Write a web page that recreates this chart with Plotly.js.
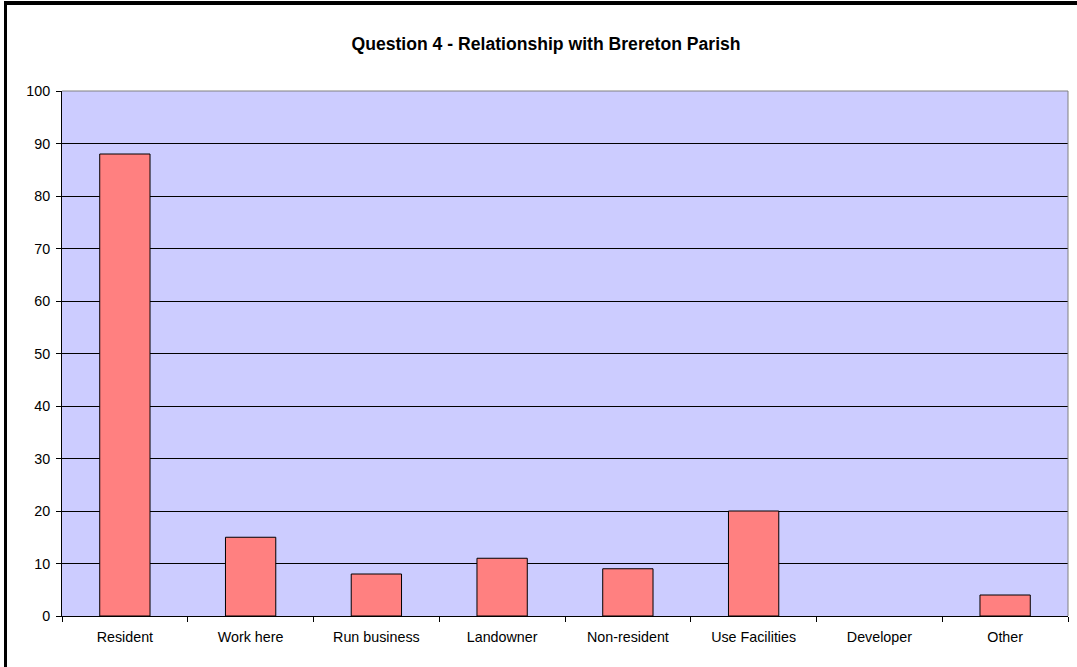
<!DOCTYPE html>
<html>
<head>
<meta charset="utf-8">
<script src="https://cdn.plot.ly/plotly-3.0.1.min.js"></script>
<style>
  html, body { margin: 0; padding: 0; background: #fff; }
  #wrap { position: relative; width: 1077px; height: 667px; }
  #chart { width: 1077px; height: 667px; }
  #bt { position: absolute; left: 4px; top: 1px; width: 1073px; height: 4px; background: #000; }
  #bl { position: absolute; left: 4px; top: 1px; width: 3px; height: 666px; background: #000; }
</style>
</head>
<body>
<div id="wrap">
  <div id="chart"></div>
  <div id="bt"></div>
  <div id="bl"></div>
</div>
<script>
const categories = ["Resident", "Work here", "Run business", "Landowner", "Non-resident", "Use Facilities", "Developer", "Other"];
const values = [88, 15, 8, 11, 9, 20, 0, 4];
const yTicks = [0, 10, 20, 30, 40, 50, 60, 70, 80, 90, 100];

const trace = {
  type: "bar",
  x: categories,
  y: values,
  marker: { color: "#FF8080", line: { color: "#000000", width: values.map(v => v > 0 ? 1 : 0) } },
  hoverinfo: "x+y"
};

const layout = {
  width: 1077,
  height: 667,
  margin: { l: 62, r: 9, t: 91, b: 51 },
  paper_bgcolor: "#ffffff",
  plot_bgcolor: "#CCCCFF",
  bargap: 0.6,
  showlegend: false,
  font: { family: "Liberation Sans, Arial, sans-serif", size: 14.3, color: "#000" },
  title: {
    text: "<b>Question 4 - Relationship with Brereton Parish</b>",
    font: { family: "Liberation Sans, Arial, sans-serif", size: 17.6, color: "#000" },
    x: 0.507, xref: "container", xanchor: "center",
    y: 623/667, yref: "container", yanchor: "middle"
  },
  xaxis: {
    type: "category",
    showline: true, linecolor: "#000", linewidth: 1,
    ticks: "outside", ticklen: 5, tickcolor: "#000",
    tickson: "boundaries",
    ticklabelstandoff: 8,
    showgrid: false,
    tickfont: { size: 14.3 },
    fixedrange: true
  },
  yaxis: {
    range: [0, 100],
    tickvals: yTicks,
    ticktext: yTicks.map(String),
    showline: true, linecolor: "#000", linewidth: 1,
    ticks: "outside", ticklen: 5, tickcolor: "#000",
    ticklabelstandoff: 3,
    showgrid: true, gridcolor: "#000", gridwidth: 1,
    zeroline: false,
    tickfont: { size: 14.3 },
    fixedrange: true
  },
  shapes: [
    { type: "line", xref: "paper", yref: "paper", x0: 0, x1: 1, y0: 1, y1: 1, line: { color: "#808080", width: 1 } },
    { type: "line", xref: "paper", yref: "paper", x0: 1, x1: 1, y0: 0, y1: 1, line: { color: "#808080", width: 1 } }
  ]
};

Plotly.newPlot("chart", [trace], layout, { displayModeBar: false, staticPlot: true });
</script>
</body>
</html>
